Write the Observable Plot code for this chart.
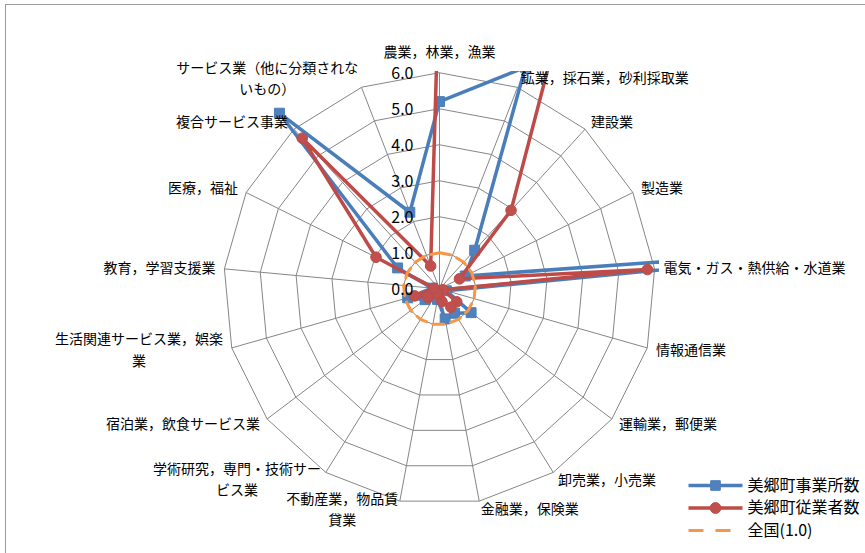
<!DOCTYPE html>
<html>
<head>
<meta charset="utf-8">
<script src="https://cdn.jsdelivr.net/npm/d3@7"></script>
<script src="https://cdn.jsdelivr.net/npm/@observablehq/plot@0.6"></script>
<style>
  html, body { margin: 0; padding: 0; background: #fff; overflow: hidden; }
  #wrap { position: relative; width: 865px; height: 553px; }
  #border { position: absolute; left: 5px; top: 4px; width: 900px; height: 600px;
            border: 1.5px solid #9a9a9a; box-sizing: border-box; }
  #chart { position: absolute; left: 0; top: 0; }
</style>
</head>
<body>
<div id="wrap"><div id="border"></div><div id="chart"></div></div>
<script>
// Industry categories (clockwise from the top); "\n" marks where a long label wraps
const categories = [
  "農業，林業，漁業",
  "鉱業，採石業，砂利採取業",
  "建設業",
  "製造業",
  "電気・ガス・熱供給・水道業",
  "情報通信業",
  "運輸業，郵便業",
  "卸売業，小売業",
  "金融業，保険業",
  "不動産業，物品賃\n貸業",
  "学術研究，専門・技術サー\nビス業",
  "宿泊業，飲食サービス業",
  "生活関連サービス業，娯楽\n業",
  "教育，学習支援業",
  "医療，福祉",
  "複合サービス事業",
  "サービス業（他に分類されな\nいもの）"
];

// Specialisation coefficients (national level = 1.0)
const establishments = [5.2, 6.6, 1.45, 0.8, 15.0, 0.2, 1.1, 0.8, 0.85, 0.3, 0.25, 0.5, 0.92, 0.2, 1.3, 6.6, 2.28];
const employees      = [9.0, 12.0, 2.95, 0.62, 5.8, 0.1, 0.6, 0.6, 0.36, 0.15, 0.15, 0.4, 0.72, 0.15, 1.97, 5.66, 0.68];
const national       = [1.0, 1.0, 1.0, 1.0, 1.0, 1.0, 1.0, 1.0, 1.0, 1.0, 1.0, 1.0, 1.0, 1.0, 1.0, 1.0, 1.0];

const seriesNames = ["美郷町事業所数", "美郷町従業者数", "全国(1.0)"];
const ringTicks = [0, 1, 2, 3, 4, 5, 6];

// ---- layout ----
const W = 865, H = 553;
const CX = 439, CY = 288.3;   // pixel position of the radar centre
const U = 36;                  // pixels per unit
const FRAME = {left: 218, right: 659, top: 71, bottom: 506};  // plot area (series are clipped to it)
const FONT = "'Noto Sans CJK JP', 'Noto Sans CJK SC', sans-serif";
const BLUE = "#4A7EBB", BLUE_FILL = "#4F81BD";
const RED = "#BE4B48", RED_FILL = "#C0504D";
const ORANGE = "#F79646";
const GRID = "#868686";
const DASH = "11,7";

const n = categories.length;
const ang = i => i * 2 * Math.PI / n;
const px2x = px => (px - CX) / U;
const px2y = py => (CY - py) / U;
const maxRing = d3.max(ringTicks);

const toRows = (vals, s) => vals.map((v, i) => ({s, i, v, x: v * Math.sin(ang(i)), y: v * Math.cos(ang(i))}));
const estRows = toRows(establishments, seriesNames[0]);
const empRows = toRows(employees, seriesNames[1]);
const natRows = toRows(national, seriesNames[2]);

// grid rings and spokes
const ringRows = ringTicks.filter(t => t > 0).flatMap(t =>
  categories.map((_, i) => ({t, x: t * Math.sin(ang(i)), y: t * Math.cos(ang(i))})));
const spokes = categories.map((_, i) => ({x: maxRing * Math.sin(ang(i)), y: maxRing * Math.cos(ang(i))}));

// category labels, one row per text line, placed just outside each spoke end
const ctx = document.createElement("canvas").getContext("2d");
ctx.font = `14px ${FONT}`;
const LH = 21.5, GAP = 9;
const labelRows = categories.flatMap((c, i) => {
  const lines = c.split("\n");
  const s = Math.sin(ang(i)), co = Math.cos(ang(i));
  const vx = maxRing * s, vy = maxRing * co;
  const w = d3.max(lines, l => ctx.measureText(l).width);
  return lines.map((text, k) => {
    let ox, oy;
    if (Math.abs(s) < 0.05) {
      ox = 0;
      oy = -20 - (lines.length - 1 - k) * LH;
    } else {
      const side = s > 0 ? 1 : -1;
      ox = GAP * s + side * w / 2;
      oy = -GAP * co + (k - (lines.length - 1) / 2) * LH;
    }
    return {text, x: vx + ox / U, y: vy - oy / U};
  });
});

// legend entries
const legendRows = [
  {name: seriesNames[0], y: px2y(485), color: BLUE, fill: BLUE_FILL, symbol: "square"},
  {name: seriesNames[1], y: px2y(507.5), color: RED, fill: RED_FILL, symbol: "circle"},
  {name: seriesNames[2], y: px2y(530), color: ORANGE, fill: null, symbol: null}
];
const legendX1 = px2x(688), legendX2 = px2x(742), legendMark = px2x(715), legendText = px2x(747);

const chart = Plot.plot({
  width: W,
  height: H,
  marginLeft: FRAME.left,
  marginRight: W - FRAME.right,
  marginTop: FRAME.top,
  marginBottom: H - FRAME.bottom,
  x: {domain: [px2x(FRAME.left), px2x(FRAME.right)], axis: null},
  y: {domain: [px2y(FRAME.bottom), px2y(FRAME.top)], axis: null},
  style: {fontFamily: FONT, fontSize: "14px", background: "transparent", color: "#000"},
  marks: [
    // web
    Plot.line(ringRows, {x: "x", y: "y", z: "t", curve: "linear-closed", stroke: GRID, strokeWidth: 1}),
    Plot.link(spokes, {x1: () => 0, y1: () => 0, x2: "x", y2: "y", stroke: GRID, strokeWidth: 1}),

    // establishments
    Plot.line(estRows, {x: "x", y: "y", curve: "linear-closed", stroke: BLUE, strokeWidth: 3.5,
      strokeLinejoin: "round", clip: true}),
    Plot.dot(estRows, {x: "x", y: "y", symbol: "square", r: 5.6, fill: BLUE_FILL, stroke: BLUE,
      strokeWidth: 1, clip: true}),

    // employees
    Plot.line(empRows, {x: "x", y: "y", curve: "linear-closed", stroke: RED, strokeWidth: 3.5,
      strokeLinejoin: "round", clip: true}),
    Plot.dot(empRows, {x: "x", y: "y", symbol: "circle", r: 5.3, fill: RED_FILL, stroke: RED,
      strokeWidth: 1, clip: true}),

    // national reference level
    Plot.line(natRows, {x: "x", y: "y", curve: "linear-closed", stroke: ORANGE, strokeWidth: 3,
      strokeDasharray: DASH, clip: true}),

    // value labels on the vertical axis
    Plot.text(ringTicks, {x: () => 0, y: d => d, text: d => d.toFixed(1), textAnchor: "end",
      dx: -26, dy: 1.5, fontSize: 16, fill: "#000"}),

    // category labels
    Plot.text(labelRows, {x: "x", y: "y", text: "text", textAnchor: "middle", lineAnchor: "middle",
      fontSize: 14, fill: "#000"}),

    // legend
    Plot.link(legendRows.slice(0, 2), {x1: () => legendX1, x2: () => legendX2, y1: "y", y2: "y",
      stroke: d => d.color, strokeWidth: 3.5}),
    Plot.link(legendRows.slice(2), {x1: () => legendX1, x2: () => legendX2, y1: "y", y2: "y",
      stroke: ORANGE, strokeWidth: 3, strokeDasharray: "15,12"}),
    Plot.dot(legendRows.slice(0, 2), {x: () => legendMark, y: "y", symbol: d => d.symbol,
      r: 5.4, fill: d => d.fill, stroke: d => d.color, strokeWidth: 1}),
    Plot.text(legendRows, {x: () => legendText, y: "y", text: "name", textAnchor: "start",
      fontSize: 16, fill: "#000"})
  ]
});

document.getElementById("chart").append(chart);
</script>
</body>
</html>
